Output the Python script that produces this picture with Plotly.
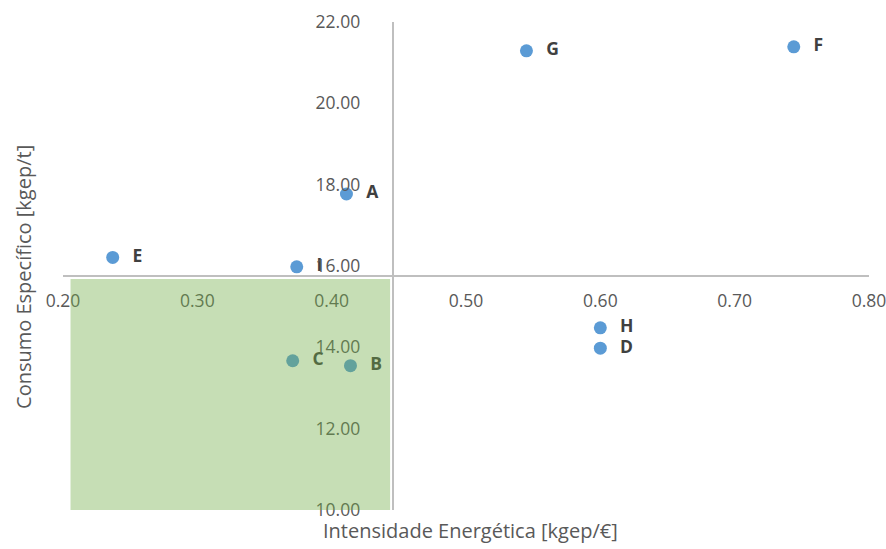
import plotly.graph_objects as go

# Data
labels = ["A", "B", "C", "D", "E", "F", "G", "H", "I"]
intensidade = [0.411, 0.414, 0.371, 0.600, 0.237, 0.744, 0.545, 0.600, 0.374]
consumo = [17.77, 13.55, 13.67, 13.98, 16.21, 21.39, 21.29, 14.48, 15.98]

x_ticks = [0.2, 0.3, 0.4, 0.5, 0.6, 0.7, 0.8]
x_ticklabels = ["0.20", "0.30", "0.40", "0.50", "0.60", "0.70", "0.80"]
y_ticks = [10, 12, 14, 16, 18, 20, 22]
y_ticklabels = ["10.00", "12.00", "14.00", "16.00", "18.00", "20.00", "22.00"]

x_range = [0.2, 0.8]
y_range = [10, 22]
x_cross = 0.4454   # where the vertical axis crosses
y_cross = 15.75    # where the horizontal axis crosses

# highlighted quadrant
quad_x = [0.2056, 0.4435]
quad_y = [10, 15.68]

FONT = "Open Sans"
TICK_COLOR = "#595959"

fig = go.Figure()

fig.add_trace(go.Scatter(
    x=intensidade, y=consumo, mode="markers",
    marker=dict(size=13, color="#5B9BD5", line=dict(width=0)),
    showlegend=False, hoverinfo="skip",
))
# labels (transparent big markers give the text offset)
fig.add_trace(go.Scatter(
    x=intensidade, y=consumo, mode="markers+text", text=labels,
    textposition="middle right",
    textfont=dict(family=FONT, size=17.5, color="#404040", weight="bold"),
    marker=dict(size=30, color="rgba(0,0,0,0)", line=dict(width=0)),
    showlegend=False, hoverinfo="skip",
))

fig.add_shape(
    type="rect", xref="x", yref="y",
    x0=quad_x[0], x1=quad_x[1], y0=quad_y[0], y1=quad_y[1],
    fillcolor="#70AD47", opacity=0.4, line=dict(width=0), layer="above",
)

fig.update_layout(
    width=886, height=549,
    margin=dict(l=63, r=17, t=22, b=39, autoexpand=False),
    paper_bgcolor="white", plot_bgcolor="white",
    font=dict(family=FONT, color=TICK_COLOR),
    xaxis=dict(
        range=x_range, tickvals=x_ticks, ticktext=x_ticklabels,
        showgrid=False, zeroline=False, showline=True,
        linecolor="#BFBFBF", linewidth=2, automargin=False,
        anchor="free", position=(y_cross - y_range[0]) / (y_range[1] - y_range[0]),
        ticks="", ticklabelstandoff=9, ticklabeloverflow="allow",
        tickfont=dict(family=FONT, size=17.5, color=TICK_COLOR),
    ),
    yaxis=dict(
        range=y_range, tickvals=y_ticks, ticktext=y_ticklabels,
        showgrid=False, zeroline=False, showline=True,
        linecolor="#BFBFBF", linewidth=2, automargin=False,
        anchor="free", position=(x_cross - x_range[0]) / (x_range[1] - x_range[0]),
        ticks="", ticklabelstandoff=28, ticklabeloverflow="allow",
        tickfont=dict(family=FONT, size=17.5, color=TICK_COLOR),
    ),
    annotations=[
        dict(text="Intensidade Energética [kgep/€]", xref="paper", yref="paper",
             x=0.505, y=-0.043, xanchor="center", yanchor="middle", showarrow=False,
             font=dict(family=FONT, size=20, color=TICK_COLOR)),
        dict(text="Consumo Específico [kgep/t]", xref="paper", yref="paper",
             x=-0.0484, y=0.4775, xanchor="center", yanchor="middle", showarrow=False,
             textangle=-90, font=dict(family=FONT, size=20, color=TICK_COLOR)),
    ],
)

fig.write_html("out.html")
